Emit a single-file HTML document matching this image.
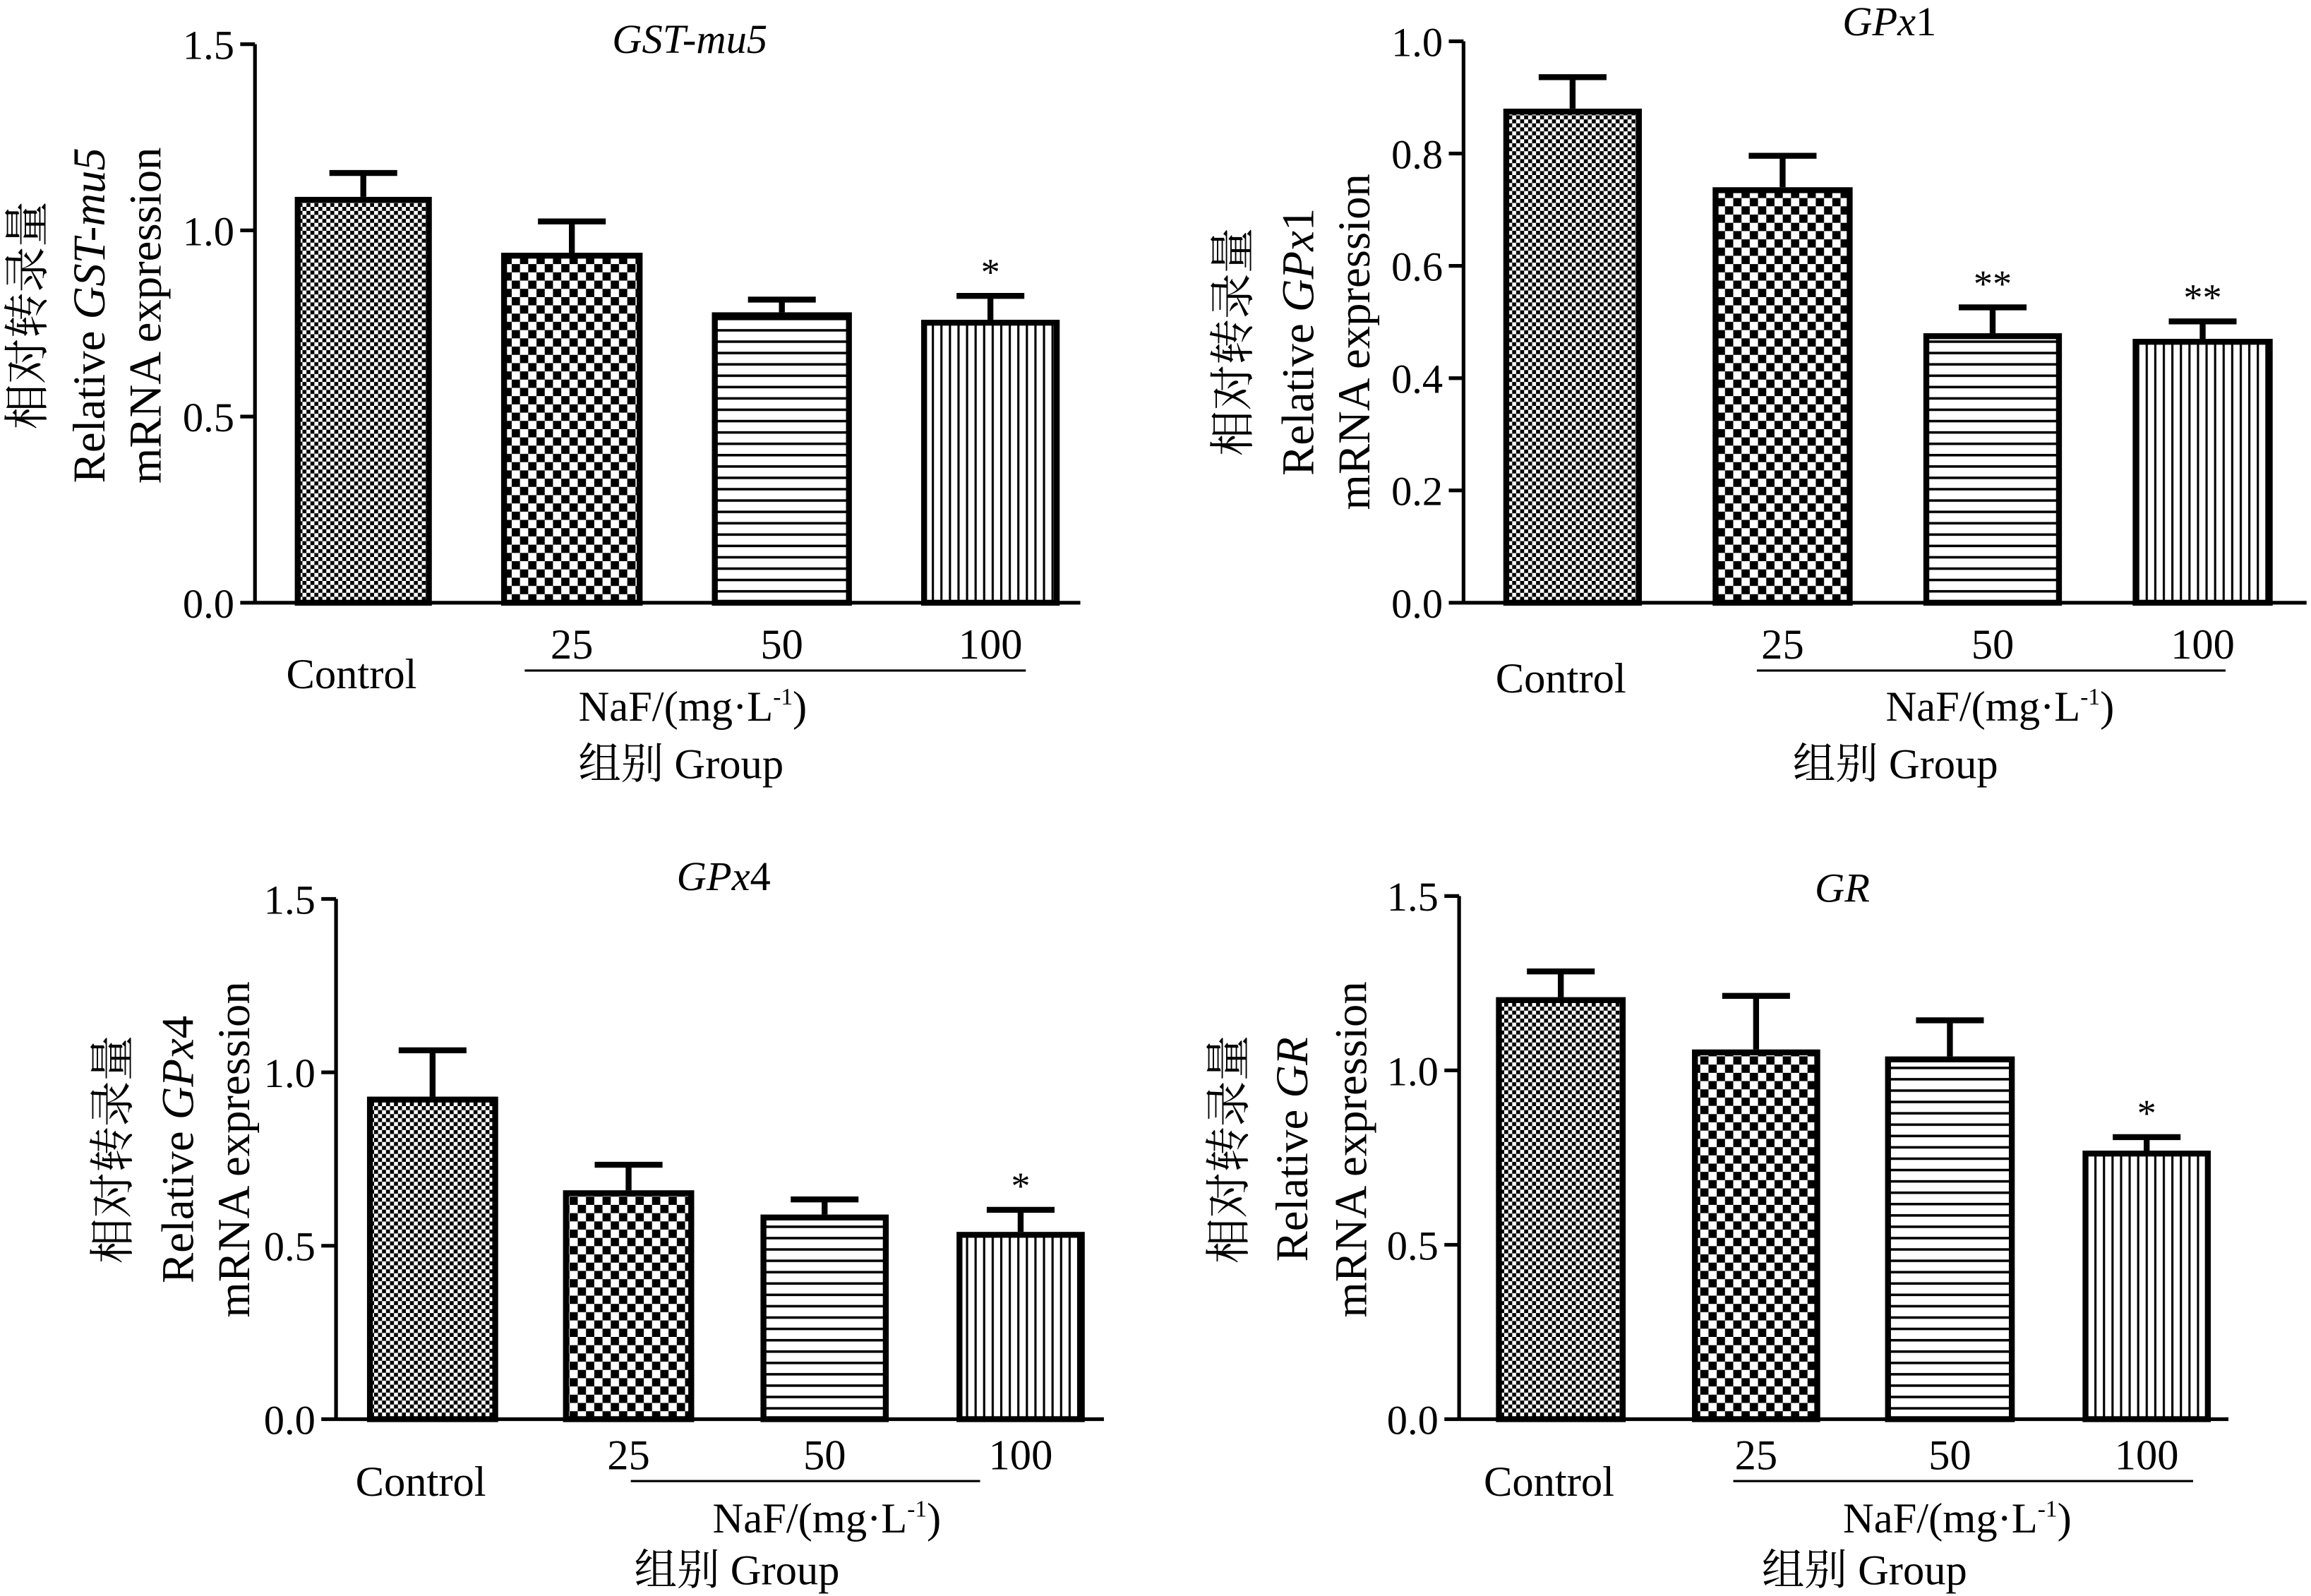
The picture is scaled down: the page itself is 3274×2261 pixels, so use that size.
<!DOCTYPE html>
<html><head><meta charset="utf-8"><style>
html,body{margin:0;padding:0;background:#fff;}
svg{display:block;}
text{font-family:"Liberation Serif","Noto Serif CJK SC",serif;fill:#000;}
</style></head><body>
<svg id="chart" width="3274" height="2261" viewBox="0 0 1568 1083" preserveAspectRatio="none" xmlns="http://www.w3.org/2000/svg">
<defs>
<pattern id="pFine" width="5.4" height="5.4" patternUnits="userSpaceOnUse"><rect width="5.4" height="5.4" fill="#fff"/><rect width="2.7" height="2.7" fill="#000"/><rect x="2.7" y="2.7" width="2.7" height="2.7" fill="#000"/></pattern>
<pattern id="pCoarse" width="11.2" height="11.2" patternUnits="userSpaceOnUse"><rect width="11.2" height="11.2" fill="#fff"/><rect width="5.6" height="5.6" fill="#000"/><rect x="5.6" y="5.6" width="5.6" height="5.6" fill="#000"/></pattern>
<pattern id="pHoriz" width="8" height="7.7" patternUnits="userSpaceOnUse"><rect width="8" height="7.7" fill="#fff"/><rect y="0" width="8" height="1.7" fill="#000"/></pattern>
<pattern id="pVert" width="5.8" height="8" patternUnits="userSpaceOnUse"><rect width="5.8" height="8" fill="#fff"/><rect x="0" width="1.5" height="8" fill="#000"/></pattern>
</defs>
</svg>
<script>
const categories = ["Control","25","50","100"];
const gstMeans = [1.09, 0.94, 0.78, 0.76];
const gstErrors = [0.07, 0.09, 0.04, 0.07];
const gstSig = ["", "", "", "*"];
const gpx1Means = [0.88, 0.74, 0.48, 0.47];
const gpx1Errors = [0.06, 0.06, 0.05, 0.035];
const gpx1Sig = ["", "", "**", "**"];
const gpx4Means = [0.93, 0.66, 0.59, 0.54];
const gpx4Errors = [0.14, 0.08, 0.05, 0.07];
const gpx4Sig = ["", "", "", "*"];
const grMeans = [1.21, 1.06, 1.04, 0.77];
const grErrors = [0.08, 0.16, 0.11, 0.045];
const grSig = ["", "", "", "*"];
const ticks15 = [0.0, 0.5, 1.0, 1.5];
const ticks10 = [0.0, 0.2, 0.4, 0.6, 0.8, 1.0];
const fills = ["url(#pFine)","url(#pCoarse)","url(#pHoriz)","url(#pVert)"];

const svg = document.getElementById('chart');
const NS = "http://www.w3.org/2000/svg";
const FF = '"Liberation Serif","Noto Serif CJK SC",serif';
function mk(tag, attrs, parent){ const e=document.createElementNS(NS,tag); for(const k in attrs) e.setAttribute(k,attrs[k]); if(tag==='text') e.setAttribute('font-family',FF); (parent||svg).appendChild(e); return e; }

const panels = [
 {name:"gst-mu5", gene:["GST-mu5",""], means:gstMeans, errs:gstErrors, sig:gstSig, ticks:ticks15, ymax:1.5, ax:173, y0:409, yTop:30, xEnd:733, bars:[[200,293],[340,436],[483,578],[625,719]], titleX:468, titleY:36, ylabX:[18,60,98], ylabY:214, catY:[467,447,447,447], naf:[356,696,470,489], grp:[462,528]},
 {name:"gpx1", gene:["GPx","1"], means:gpx1Means, errs:gpx1Errors, sig:gpx1Sig, ticks:ticks10, ymax:1.0, ax:993, y0:409, yTop:28, xEnd:1565, bars:[[1020,1114],[1162,1257],[1305,1399],[1447,1542]], titleX:1282, titleY:24, ylabX:[836,880,918], ylabY:232, catY:[470,447,447,447], naf:[1192,1510,1357,489], grp:[1286,528]},
 {name:"gpx4", gene:["GPx","4"], means:gpx4Means, errs:gpx4Errors, sig:gpx4Sig, ticks:ticks15, ymax:1.5, ax:228, y0:963, yTop:610, xEnd:749, bars:[[249,338],[382,471],[516,603],[649,736]], titleX:491, titleY:604, ylabX:[76,120,158], ylabY:780, catY:[1015,997,997,997], naf:[428,665,561,1040], grp:[500,1075]},
 {name:"gr", gene:["GR",""], means:grMeans, errs:grErrors, sig:grSig, ticks:ticks15, ymax:1.5, ax:990, y0:963, yTop:608, xEnd:1512, bars:[[1015,1103],[1148,1235],[1279,1367],[1413,1500]], titleX:1250, titleY:612, ylabX:[833,876,916], ylabY:780, catY:[1015,997,997,997], naf:[1176,1488,1328,1040], grp:[1265,1075]}
];

panels.forEach(p=>{
  const g = mk('g',{});
  
  
  const y = v => p.y0 - (v/p.ymax)*(p.y0-p.yTop);
  p.means.forEach((m,i)=>{
    const [x1,x2]=p.bars[i];
    const cx=(x1+x2)/2;
    const top=y(m), et=y(m+p.errs[i]);
    const el=mk('line',{x1:cx,x2:cx,y1:top,y2:et,stroke:'#000','stroke-width':4},g);
    
    
    const cap=mk('line',{x1:cx-23,x2:cx+23,y1:et+1.5,y2:et+1.5,stroke:'#000','stroke-width':4},g);
    
    
    const r=mk('rect',{x:x1+2,y:top+2,width:x2-x1-4,height:p.y0-top-2,fill:fills[i],stroke:'#000','stroke-width':4},g);
    
    
    if(p.sig[i]){
      const t=mk('text',{x:cx,y:et-6,'text-anchor':'middle','font-size':26},g);
      t.textContent=p.sig[i];
      
      
    }
  });
  const ya=mk('line',{x1:p.ax,x2:p.ax,y1:p.yTop,y2:p.y0+1,stroke:'#000','stroke-width':2.5},g);
  
  
  const xa=mk('line',{x1:p.ax,x2:p.xEnd,y1:p.y0,y2:p.y0,stroke:'#000','stroke-width':2.5},g);
  
  
  p.ticks.forEach(t=>{
    const ty=y(t);
    mk('line',{x1:p.ax-10,x2:p.ax,y1:ty,y2:ty,stroke:'#000','stroke-width':2.5},g);
    const tl=mk('text',{x:p.ax-14,y:ty+10,'text-anchor':'end','font-size':28},g);
    tl.textContent=t.toFixed(1);
    
    
  });
  const tt=mk('text',{x:p.titleX,y:p.titleY,'text-anchor':'middle','font-size':28},g);
  
  
  tt.innerHTML='<tspan font-style="italic">'+p.gene[0]+'</tspan>'+p.gene[1];
  const lines=['相对转录量','Relative <tspan font-style="italic">'+p.gene[0]+'</tspan>'+p.gene[1],'mRNA expression'];
  lines.forEach((s,k)=>{
    const t=mk('text',{x:0,y:0,'text-anchor':'middle','font-size':31,transform:'translate('+(p.ylabX[k]+11)+','+p.ylabY+') rotate(-90)'},g);
    t.innerHTML=s;
    
    
  });
  categories.forEach((c,i)=>{
    const [x1,x2]=p.bars[i];
    const t=mk('text',{x:(x1+x2)/2-(i==0?8:0),y:p.catY[i],'text-anchor':'middle','font-size':29},g);
    t.textContent=c;
    
    
  });
  const nl=mk('line',{x1:p.naf[0],x2:p.naf[1],y1:p.catY[1]+8,y2:p.catY[1]+8,stroke:'#000','stroke-width':1.5},g);
  
  
  const nt=mk('text',{x:p.naf[2],y:p.naf[3],'text-anchor':'middle','font-size':29},g);
  nt.innerHTML='NaF/(mg·L<tspan font-size="16" dy="-11">-1</tspan><tspan dy="11">)</tspan>';
  
  
  const gt=mk('text',{x:p.grp[0],y:p.grp[1],'text-anchor':'middle','font-size':29},g);
  gt.textContent='组别 Group';
  
  
});
</script>
</body></html>
